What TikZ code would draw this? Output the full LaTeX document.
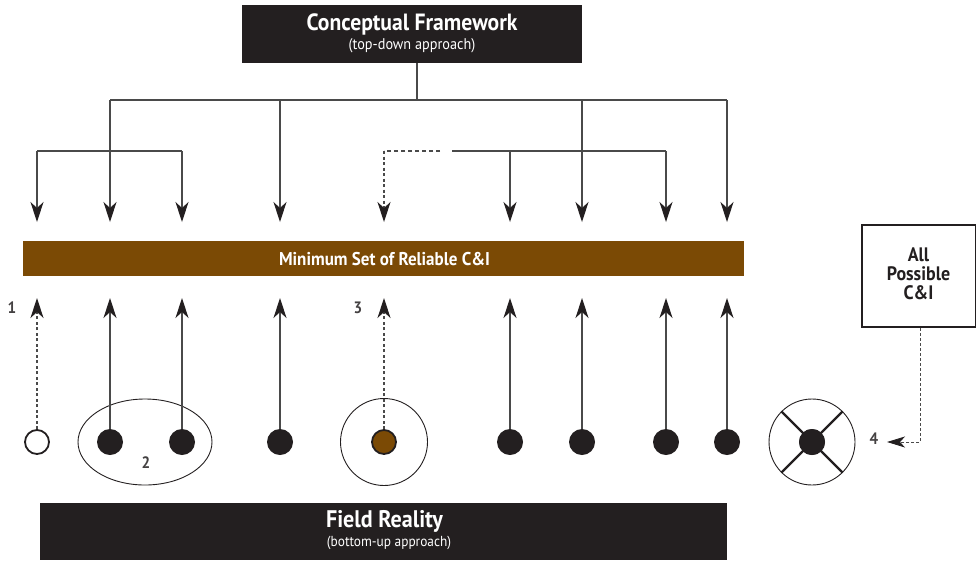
\documentclass[tikz,border=0pt]{standalone}
\usepackage{fontspec}
\setmainfont[FakeStretch=0.92]{PT Sans}
\usetikzlibrary{arrows.meta}
\definecolor{darkbox}{HTML}{231F20}
\definecolor{barbrown}{HTML}{7B4A05}
\definecolor{linegray}{HTML}{4A4A4A}
\tikzset{
  conn/.style={draw=linegray,line width=1.1pt},
  arr/.style={conn,-{Stealth[length=20pt,width=13pt,inset=6pt,fill=darkbox,color=darkbox]}},
  dasharr/.style={arr,dashed,dash pattern=on 3pt off 2.5pt},
  darkbar/.style={fill=darkbox,text=white,inner sep=0pt,align=center},
  fulldot/.style={circle,fill=darkbox,minimum size=26pt,inner sep=0pt},
  opendot/.style={circle,draw=darkbox,line width=1.8pt,fill=white,minimum size=24pt,inner sep=0pt},
  browndot/.style={circle,draw=darkbox,line width=1.8pt,fill=barbrown,minimum size=24pt,inner sep=0pt},
  ring/.style={draw=darkbox,line width=0.9pt},
  numlabel/.style={text=darkbox!85,font=\bfseries\fontsize{16.5}{16.5}\selectfont,inner sep=0pt},
  boxline/.style={text=darkbox,font=\bfseries\fontsize{19.5}{19.5}\selectfont,inner sep=0pt}
}
\begin{document}
\begin{tikzpicture}[x=1pt,y=-1pt]
\useasboundingbox (0,0) rectangle (976,560);
% top box
\node[darkbar,minimum width=340pt,minimum height=58pt] (cf) at (412,34) {};
\node[text=white,font=\bfseries\fontsize{23.5}{23.5}\selectfont,inner sep=0pt] (cft) at (412,24) {Conceptual Framework};
\node[text=white,font=\fontsize{15.5}{15.5}\selectfont,inner sep=0pt] (cfs) at (412,46) {(top-down approach)};
% bottom box
\node[darkbar,minimum width=687pt,minimum height=57pt] (fr) at (383.5,531.5) {};
\node[text=white,font=\bfseries\fontsize{24}{24}\selectfont,inner sep=0pt] (frt) at (384.5,521) {Field Reality};
\node[text=white,font=\fontsize{14.5}{14.5}\selectfont,inner sep=0pt] (frs) at (389,543) {(bottom-up approach)};
% bar
\node[fill=barbrown,minimum width=721pt,minimum height=35pt,inner sep=0pt] (bar) at (383.5,258.5) {};
\node[text=white,font=\bfseries\fontsize{18.5}{18.5}\selectfont,inner sep=0pt] (bart) at (384.5,259) {Minimum Set of Reliable C\&I};
% all possible box
\node[draw=darkbox,line width=2pt,fill=white,minimum width=114pt,minimum height=102pt,inner sep=0pt] (all) at (918.5,276) {};
\node[boxline] (all1) at (918.5,254.5) {All};
\node[boxline] (all2) at (918.5,273.5) {Possible};
\node[boxline] (all3) at (918.5,293) {C\&I};
% dots
\node[opendot] (d1) at (37,442) {};
\node[fulldot] (d2) at (110,442) {};
\node[fulldot] (d3) at (182,442) {};
\node[fulldot] (d4) at (280,442) {};
\node[browndot] (d5) at (384,442) {};
\node[fulldot] (d6) at (510,442) {};
\node[fulldot] (d7) at (582,442) {};
\node[fulldot] (d8) at (666,442) {};
\node[fulldot] (d9) at (727,442) {};
\node[fulldot] (d10) at (812,442) {};
% rings
\draw[ring] (145,442) ellipse [x radius=67pt,y radius=43pt];
\node[ring,circle,minimum size=87pt,inner sep=0pt] (r5) at (d5) {};
\node[ring,circle,minimum size=86pt,inner sep=0pt] (r10) at (d10) {};
\draw[darkbox,line width=2.2pt] (r10.45) -- (r10.225);
\draw[darkbox,line width=2.2pt] (r10.135) -- (r10.315);
\node[fulldot] at (d10) {};
% labels
\node[numlabel] (n1) at (12,308) {1};
\node[numlabel] (n2) at (146,463) {2};
\node[numlabel] (n3) at (358,308) {3};
\node[numlabel] (n4) at (874,439) {4};
% top-down junctions
\coordinate (jm) at (417,100);
\coordinate (jl) at (110,100);
\coordinate (jr) at (727,100);
\coordinate (ja) at (37,151);
\coordinate (jb) at (182,151);
\coordinate (jc) at (384,151);
\coordinate (jd) at (440,151);
\coordinate (je) at (452,151);
\coordinate (jf) at (666,151);
\coordinate (j280) at (280,100);
\coordinate (j582) at (582,100);
\coordinate (j510) at (510,151);
\foreach \x/\n in {37/1,110/2,182/3,280/4,384/5,510/6,582/7,666/8,727/9}{
  \coordinate (t\n) at (\x,222);
  \coordinate (u\n) at (\x,298);
}
\draw[conn] (cf.south -| jm) -- (jm);
\draw[conn] (jl) -- (jr);
\draw[conn] (ja) -- (jb);
\draw[conn] (je) -- (jf);
\draw[conn,dashed,dash pattern=on 4pt off 3pt] (jd) -- (jc);
\draw[arr] (jl) -- (t2);
\draw[arr] (ja) -- (t1);
\draw[arr] (jb) -- (t3);
\draw[arr] (j280) -- (t4);
\draw[dasharr] (jc) -- (t5);
\draw[arr] (j510) -- (t6);
\draw[arr] (j582) -- (t7);
\draw[arr] (jf) -- (t8);
\draw[arr] (jr) -- (t9);
% bottom-up arrows
\draw[dasharr] (d1) -- (u1);
\draw[arr] (d2) -- (u2);
\draw[arr] (d3) -- (u3);
\draw[arr] (d4) -- (u4);
\draw[dasharr] (d5) -- (u5);
\draw[arr] (d6) -- (u6);
\draw[arr] (d7) -- (u7);
\draw[arr] (d8) -- (u8);
\draw[arr] (d9) -- (u9);
% all possible -> 4
\coordinate (t4b) at (887,442);
\coordinate (k4) at (920,442);
\draw[conn,line width=0.9pt,dashed,dash pattern=on 3pt off 2pt,-{Stealth[length=18pt,width=11pt,inset=5pt,fill=darkbox,color=darkbox]}] (all.south -| k4) -- (k4) -- (t4b);
\end{tikzpicture}
\end{document}
